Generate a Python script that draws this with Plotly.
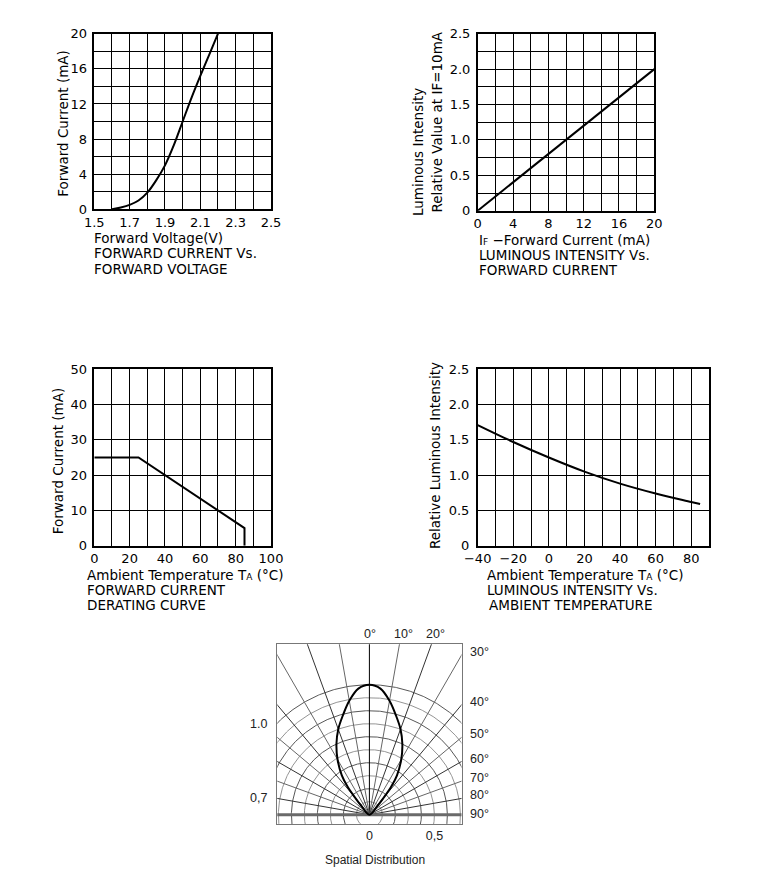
import numpy as np
import plotly.graph_objects as go

# ---------------- data ----------------
# Chart 1: forward current vs forward voltage
fv_voltage = [1.60, 1.65, 1.70, 1.75, 1.80, 1.85, 1.90, 1.95, 2.00, 2.05, 2.10, 2.15, 2.20]
fv_current = [0.0, 0.2, 0.5, 1.0, 1.9, 3.3, 5.0, 7.3, 10.0, 12.7, 15.2, 17.6, 20.0]

# Chart 2: luminous intensity vs forward current
li_current = [0, 20]
li_relative = [0.0, 2.0]

# Chart 3: forward current derating curve
der_temp = [0, 25, 85, 85]
der_current = [25, 25, 5, 0]

# Chart 4: luminous intensity vs ambient temperature
amb_temp = [-40, -20, 0, 20, 40, 60, 80, 85]
amb_rel = [1.71, 1.47, 1.25, 1.05, 0.88, 0.74, 0.62, 0.59]

# Chart 5: spatial distribution (angle in degrees, relative intensity)
sp_angle = [0, 5, 10, 15, 20, 25, 30, 35, 38, 40, 42, 44]
sp_intensity = [1.0, 0.974, 0.89, 0.79, 0.70, 0.60, 0.49, 0.37, 0.27, 0.17, 0.10, 0.0]
grid_radii = [0.1, 0.2, 0.3, 0.4, 0.5, 0.6, 0.7, 0.8, 0.9, 1.0]
grid_angles = [-80, -70, -60, -50, -40, -30, -20, -10, 0, 10, 20, 30, 40, 50, 60, 70, 80]
top_angle_labels = [0, 10, 20]
side_angle_labels = [30, 40, 50, 60, 70, 80, 90]

# tick labels
c1_xticks = [1.5, 1.7, 1.9, 2.1, 2.3, 2.5]
c1_yticks = [0, 4, 8, 12, 16, 20]
c2_xticks = [0, 4, 8, 12, 16, 20]
c2_yticks = [0, 0.5, 1.0, 1.5, 2.0, 2.5]
c2_yticktext = ["0", "0.5", "1.0", "1.5", "2.0", "2.5"]
c3_xticks = [0, 20, 40, 60, 80, 100]
c3_yticks = [0, 10, 20, 30, 40, 50]
c4_xticks = [-40, -20, 0, 20, 40, 60, 80]
c4_yticks = [0, 0.5, 1.0, 1.5, 2.0, 2.5]
c4_yticktext = ["0", "0.5", "1.0", "1.5", "2.0", "2.5"]

# ---------------- layout helpers ----------------
OFF = 8                      # page body margin
W, H = 761 - 2 * OFF, 875 - 2 * OFF
FONT = "DejaVu Sans"
PFONT = "Liberation Sans"
TS = 13.5


def px(x):
    return (x - OFF) / W


def py(y):
    return 1 - (y - OFF) / H


def dom(x0, x1, y0, y1):
    return [px(x0), px(x1)], [py(y1), py(y0)]


def axis(domain, rng, minor_dtick, minor_tick0, **kw):
    d = dict(
        domain=domain, range=rng, showline=True, mirror=True, linecolor="black",
        linewidth=1.5, showgrid=True, gridcolor="black", gridwidth=1,
        zeroline=False, ticks="", fixedrange=True, automargin=False,
        tickfont=dict(family=FONT, size=13, color="black"),
        minor=dict(showgrid=True, gridcolor="black", gridwidth=1,
                   dtick=minor_dtick, tick0=minor_tick0),
    )
    d.update(kw)
    return d


fig = go.Figure()

# Chart 1
fig.add_trace(go.Scatter(x=fv_voltage, y=fv_current, mode="lines", line_shape="spline",
                         line=dict(color="black", width=2), xaxis="x", yaxis="y"))
# Chart 2
fig.add_trace(go.Scatter(x=li_current, y=li_relative, mode="lines",
                         line=dict(color="black", width=2), xaxis="x2", yaxis="y2"))
# Chart 3
fig.add_trace(go.Scatter(x=der_temp, y=der_current, mode="lines",
                         line=dict(color="black", width=2), xaxis="x3", yaxis="y3"))
# Chart 4
fig.add_trace(go.Scatter(x=amb_temp, y=amb_rel, mode="lines", line_shape="spline",
                         line=dict(color="black", width=2), xaxis="x4", yaxis="y4"))

# Chart 5: polar grid on cartesian axes
t = np.linspace(0, 2 * np.pi, 721)
for i, r in enumerate(grid_radii):
    fig.add_trace(go.Scatter(x=r * np.cos(t), y=r * np.sin(t), mode="lines",
                             line=dict(color="#444444" if i % 2 else "#888888", width=0.9),
                             xaxis="x5", yaxis="y5", hoverinfo="skip"))
L = 3.0
for a in grid_angles:
    th = np.radians(a)
    col = "black" if a == 0 else ("#333333" if a % 20 == 0 else "#666666")
    fig.add_trace(go.Scatter(x=[0, L * np.sin(th)], y=[0, L * np.cos(th)], mode="lines",
                             line=dict(color=col, width=1),
                             xaxis="x5", yaxis="y5", hoverinfo="skip"))
# 90 degree baseline
fig.add_trace(go.Scatter(x=[-L, L], y=[0, 0], mode="lines",
                         line=dict(color="#6a6a6a", width=3),
                         xaxis="x5", yaxis="y5", hoverinfo="skip"))
# lobe
ang = np.radians(np.array([-a for a in sp_angle[::-1]] + sp_angle[1:]))
rad = np.array(sp_intensity[::-1] + sp_intensity[1:])
fig.add_trace(go.Scatter(x=rad * np.sin(ang), y=rad * np.cos(ang), mode="lines",
                         line_shape="spline", line=dict(color="black", width=2),
                         xaxis="x5", yaxis="y5"))

# domains (reference pixel positions)
d1x, d1y = dom(94.3, 271, 33.7, 209.3)
d2x, d2y = dom(477.7, 654.3, 33.7, 210.7)
d3x, d3y = dom(94.3, 271, 369.3, 545.7)
d4x, d4y = dom(477.7, 709, 369.3, 545.7)
d5x, d5y = dom(277.3, 461.5, 644.3, 824.3)

layout = dict(
    width=W, height=H, margin=dict(l=0, r=0, t=0, b=0, pad=0, autoexpand=False),
    paper_bgcolor="white", plot_bgcolor="white", showlegend=False,
    xaxis=axis(d1x, [1.5, 2.5], 0.1, 1.5, anchor="y", tickvals=c1_xticks,
               ticktext=["%.1f" % v for v in c1_xticks]),
    yaxis=axis(d1y, [0, 20], 2, 0, anchor="x", tickvals=c1_yticks, ticklabelstandoff=3),
    xaxis2=axis(d2x, [0, 20], 2, 0, anchor="y2", tickvals=c2_xticks),
    yaxis2=axis(d2y, [0, 2.5], 0.25, 0, anchor="x2", tickvals=c2_yticks,
                ticktext=c2_yticktext, ticklabelstandoff=3),
    xaxis3=axis(d3x, [0, 100], 10, 0, anchor="y3", tickvals=c3_xticks),
    yaxis3=axis(d3y, [0, 50], 10, 0, anchor="x3", tickvals=c3_yticks, ticklabelstandoff=3),
    xaxis4=axis(d4x, [-40, 90], 10, -40, anchor="y4", tickvals=c4_xticks, ticklabelstandoff=0),
    yaxis4=axis(d4y, [0, 2.5], 0.5, 0, anchor="x4", tickvals=c4_yticks,
                ticktext=c4_yticktext, ticklabelstandoff=4),
    xaxis5=dict(domain=d5x, range=[-0.7085, 0.7085], anchor="y5", showline=True, mirror=True,
                linecolor="#777777", linewidth=1, showgrid=False, zeroline=False, ticks="",
                tickvals=[0, 0.5], ticktext=["0", "0,5"], fixedrange=True, automargin=False,
                tickfont=dict(family=PFONT, size=12.5, color="#222222")),
    yaxis5=dict(domain=d5y, range=[-0.074, 1.311], anchor="x5", showline=True, mirror=True,
                linecolor="#777777", linewidth=1, showgrid=False, zeroline=False, ticks="",
                showticklabels=False, fixedrange=True, automargin=False),
)
fig.update_layout(**layout)


def txt(x, y, s, size=TS, xanchor="left", angle=0, font=FONT, color="black"):
    fig.add_annotation(x=px(x), y=py(y), xref="paper", yref="paper", text=s,
                       showarrow=False, xanchor=xanchor, yanchor="middle", borderpad=0,
                       textangle=angle, font=dict(family=font, size=size, color=color))


# Chart 1 texts
txt(62.7, 123, "Forward Current (mA)", xanchor="center", angle=-90)
txt(93, 238, "Forward Voltage(V)")
txt(93, 253.5, "FORWARD CURRENT Vs.")
txt(93, 268.5, "FORWARD VOLTAGE")
# Chart 2 texts
txt(418, 152, "Luminous Intensity", xanchor="center", angle=-90)
txt(436.5, 122, "Relative Value at IF=10mA", xanchor="center", angle=-90)
txt(478, 240, "I<span style='font-size:9px'>F</span> \u2212Forward Current (mA)")
txt(478, 255, "LUMINOUS INTENSITY Vs.")
txt(478, 270, "FORWARD CURRENT")
# Chart 3 texts
txt(58.3, 461, "Forward Current (mA)", xanchor="center", angle=-90)
txt(86, 575, "Ambient Temperature T<span style='font-size:9px'>A</span> (°C)")
txt(86, 590, "FORWARD CURRENT")
txt(86, 605, "DERATING CURVE")
# Chart 4 texts
txt(435, 456, "Relative Luminous Intensity", xanchor="center", angle=-90)
txt(486, 575, "Ambient Temperature T<span style='font-size:9px'>A</span> (°C)")
txt(486, 590, "LUMINOUS INTENSITY Vs.")
txt(488, 605, "AMBIENT TEMPERATURE")

# Chart 5 texts
ytop = 1.311
for a in top_angle_labels:
    fig.add_annotation(x=ytop * np.tan(np.radians(a)), y=ytop, xref="x5", yref="y5",
                       text="%d°" % a, showarrow=False, xanchor="center", yanchor="bottom",
                       xshift=(4 if a else 1), yshift=1,
                       font=dict(family=PFONT, size=12.5, color="#222222"))
xr = 0.7085
for a in side_angle_labels:
    yv = 0.0 if a == 90 else xr / np.tan(np.radians(a))
    fig.add_annotation(x=xr, y=yv, xref="x5", yref="y5", text="%d°" % a,
                       showarrow=False, xanchor="left", yanchor="middle",
                       xshift=6, yshift=(3 if a < 90 else 1),
                       font=dict(family=PFONT, size=12.5, color="#222222"))
txt(258, 724, "1.0", size=12.5, xanchor="center", font=PFONT, color="#222222")
txt(258, 798, "0,7", size=12.5, xanchor="center", font=PFONT, color="#222222")
txt(375, 860, "Spatial Distribution", size=12, xanchor="center", font=PFONT, color="#222222")

fig.write_html("out.html")
